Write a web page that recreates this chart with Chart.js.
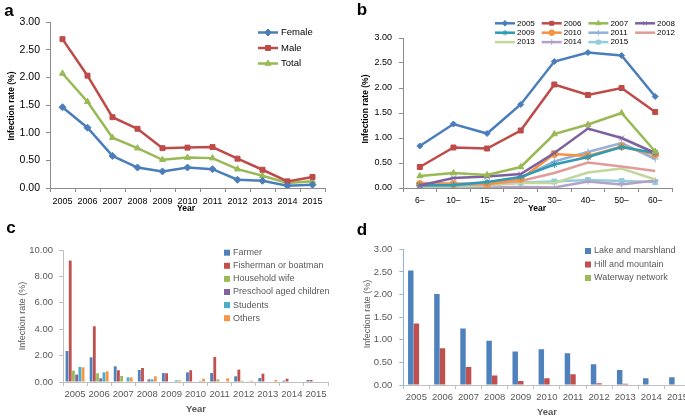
<!DOCTYPE html>
<html>
<head>
<meta charset="utf-8">
<script src="https://cdn.jsdelivr.net/npm/chart.js"></script>
<style>
  html,body{margin:0;padding:0;background:#fff;}
  #wrap{position:relative;width:685px;height:418px;overflow:hidden;font-family:'Liberation Sans',Arial,sans-serif;}
  canvas{position:absolute;}
  .pl{position:absolute;font-weight:bold;font-size:17px;line-height:1;color:#000;transform:translate(-50%,-50%);}
  .t{position:absolute;white-space:nowrap;line-height:1;transform:translate(-50%,-50%);}
  .rot{transform:translate(-50%,-50%) rotate(-90deg);}
</style>
</head>
<body>
<div id="wrap">
  <canvas id="ca" width="330" height="215" style="left:0;top:0"></canvas>
  <canvas id="cb" width="345" height="215" style="left:340px;top:0"></canvas>
  <canvas id="cc" width="340" height="203" style="left:0;top:215px"></canvas>
  <canvas id="cd" width="360" height="203" style="left:340px;top:215px"></canvas>

  <div class="pl" style="left:9px;top:10px">a</div>
  <div class="pl" style="left:362px;top:9px">b</div>
  <div class="pl" style="left:11px;top:227px">c</div>
  <div class="pl" style="left:362px;top:229px">d</div>

  <div class="t rot" style="left:11px;top:106px;font-size:8.5px;font-weight:bold;color:#000">Infection rate (%)</div>
  <div class="t" style="left:186px;top:208px;font-size:8.5px;font-weight:bold;color:#000">Year</div>
  <div class="t rot" style="left:365px;top:109px;font-size:8.5px;font-weight:bold;color:#000">Infection rate (%)</div>
  <div class="t" style="left:537px;top:208px;font-size:8.5px;font-weight:bold;color:#000">Year</div>
  <div class="t rot" style="left:22px;top:316px;font-size:9px;color:#595959">Infection rate (%)</div>
  <div class="t" style="left:196px;top:409px;font-size:9.5px;font-weight:bold;color:#595959">Year</div>
  <div class="t rot" style="left:367px;top:314px;font-size:9px;color:#595959">Infection rate (%)</div>
  <div class="t" style="left:547px;top:412px;font-size:9.5px;font-weight:bold;color:#595959">Year</div>
</div>
<script>
// ---------- DATA ----------
const years = ['2005','2006','2007','2008','2009','2010','2011','2012','2013','2014','2015'];

// Panel a
const femaleRate = [1.46,1.09,0.58,0.37,0.30,0.37,0.34,0.15,0.13,0.04,0.06];
const maleRate   = [2.69,2.03,1.28,1.07,0.72,0.73,0.74,0.53,0.33,0.12,0.20];
const totalRate  = [2.07,1.56,0.91,0.72,0.51,0.55,0.54,0.34,0.22,0.09,0.12];

// Panel b
const ageGroups = ['6–','10–','15–','20–','30–','40–','50–','60–'];
const age2005 = [0.84,1.28,1.09,1.67,2.53,2.71,2.65,1.83];
const age2006 = [0.42,0.81,0.79,1.15,2.07,1.86,2.00,1.52];
const age2007 = [0.24,0.30,0.26,0.42,1.08,1.27,1.50,0.73];
const age2008 = [0.05,0.20,0.23,0.28,0.70,1.19,1.00,0.70];
const age2009 = [0.05,0.06,0.12,0.22,0.47,0.62,0.82,0.70];
const age2010 = [0.08,0.08,0.08,0.18,0.68,0.64,0.83,0.67];
const age2011 = [0.05,0.05,0.08,0.20,0.53,0.72,0.90,0.58];
const age2012 = [0.10,0.09,0.08,0.14,0.30,0.51,0.43,0.34];
const age2013 = [0.03,0.03,0.05,0.10,0.10,0.31,0.39,0.17];
const age2014 = [0.03,0.02,0.01,0.02,0.01,0.13,0.07,0.15];
const age2015 = [0.00,0.00,0.06,0.11,0.13,0.16,0.14,0.12];

// Panel c
const farmer     = [2.35,1.87,1.19,0.91,0.68,0.73,0.68,0.43,0.30,0.10,0.15];
const fisherman  = [9.20,4.22,0.89,1.06,0.66,0.89,1.90,0.94,0.63,0.25,0.15];
const housewife  = [0.86,0.66,0.46,0.00,0.00,0.00,0.20,0.10,0.00,0.00,0.00];
const preschool  = [0.56,0.28,0.00,0.20,0.00,0.00,0.00,0.00,0.00,0.00,0.00];
const students   = [1.14,0.73,0.35,0.20,0.13,0.08,0.00,0.05,0.00,0.00,0.00];
const others     = [1.11,0.81,0.35,0.43,0.13,0.25,0.28,0.10,0.15,0.00,0.00];

// Panel d
const lakeMarsh  = [2.53,2.01,1.25,0.98,0.74,0.79,0.70,0.46,0.33,0.15,0.17];
const hillMount  = [1.36,0.81,0.40,0.21,0.09,0.15,0.24,0.04,0.03,0.00,0.00];
const waterway   = [0,0,0,0,0,0,0,0,0,0,0];

// ---------- HELPERS ----------
Chart.defaults.font.family = "'Liberation Sans', Arial, sans-serif";
Chart.defaults.animation = false;

function fmt2(v){ return Number(v).toFixed(2); }

function makeLegend(id, cfg){
  return {
    id: id,
    afterDraw(chart){
      const ctx = chart.ctx;
      ctx.save();
      ctx.font = cfg.font;
      ctx.textBaseline = 'middle';
      ctx.textAlign = 'left';
      chart.data.datasets.forEach((ds, i) => {
        const col = cfg.cols ? i % cfg.cols : 0;
        const row = cfg.cols ? Math.floor(i / cfg.cols) : i;
        const x = cfg.x0 + col * (cfg.dx || 0);
        const y = cfg.y0 + row * cfg.dy;
        if (cfg.type === 'line') {
          ctx.strokeStyle = ds.borderColor;
          ctx.lineWidth = cfg.lw;
          ctx.beginPath(); ctx.moveTo(x, y); ctx.lineTo(x + cfg.len, y); ctx.stroke();
          if (ds.pointRadius > 0 && Chart.helpers && Chart.helpers.drawPoint) {
            ctx.fillStyle = ds.borderColor;
            ctx.strokeStyle = ds.borderColor;
            ctx.lineWidth = 1;
            Chart.helpers.drawPoint(ctx, {pointStyle: ds.pointStyle, radius: cfg.mr, rotation: 0, borderWidth: 1}, x + cfg.len/2, y);
          }
          ctx.fillStyle = cfg.color;
          ctx.fillText(ds.label, x + cfg.len + cfg.gap, y);
        } else {
          ctx.fillStyle = ds.backgroundColor;
          ctx.fillRect(x, y - cfg.sq/2, cfg.sq, cfg.sq);
          ctx.fillStyle = cfg.color;
          ctx.fillText(ds.label, x + cfg.sq + cfg.gap, y);
        }
      });
      ctx.restore();
    }
  };
}

function lineDs(label, data, color, style, r, w){
  return {label, data, borderColor: color, backgroundColor: color,
    pointBackgroundColor: color, pointBorderColor: color,
    pointStyle: style, pointRadius: r, pointBorderWidth: 1, borderWidth: w, tension: 0};
}

function axisX(color, fontSize, txtColor, h, pad){
  return {
    type: 'category', offset: true,
    grid: {display: true, offset: true, drawOnChartArea: false, drawTicks: true, tickLength: 4, color: color},
    border: {display: true, color: color, width: 1},
    ticks: {autoSkip: false, maxRotation: 0, minRotation: 0, font: {size: fontSize}, color: txtColor, padding: pad},
    afterFit(s){ s.height = h; }
  };
}
function axisY(max, step, color, fontSize, txtColor, w, pad){
  return {
    min: 0, max: max,
    grid: {display: true, drawOnChartArea: false, drawTicks: true, tickLength: 4, color: color},
    border: {display: true, color: color, width: 1},
    ticks: {stepSize: step, font: {size: fontSize}, color: txtColor, padding: pad, callback: fmt2},
    afterFit(s){ s.width = w; }
  };
}

// ---------- PANEL A ----------
new Chart(document.getElementById('ca'), {
  type: 'line',
  data: {
    labels: years,
    datasets: [
      lineDs('Female', femaleRate, '#4A7EBB', 'rectRot', 3.5, 2.5),
      lineDs('Male', maleRate, '#BE4B48', 'rect', 3.5, 2.5),
      lineDs('Total', totalRate, '#98B954', 'triangle', 3.5, 2.5)
    ]
  },
  options: {
    responsive: false,
    layout: {padding: {top: 22, right: 5, left: 0, bottom: 0}},
    plugins: {legend: {display: false}, tooltip: {enabled: false}},
    scales: {
      x: axisX('#8C8C8C', 9, '#000', 27, 4),
      y: axisY(3, 0.5, '#8C8C8C', 10.5, '#000', 50, 6)
    }
  },
  plugins: [makeLegend('legA', {type: 'line', font: "9.5px 'Liberation Sans', Arial, sans-serif", color: '#000',
    x0: 258, y0: 32.5, dy: 15.5, len: 20, gap: 3, lw: 2.5, mr: 3.5})]
});

// ---------- PANEL B ----------
new Chart(document.getElementById('cb'), {
  type: 'line',
  data: {
    labels: ageGroups,
    datasets: [
      lineDs('2005', age2005, '#4A7EBB', 'rectRot', 3, 2.5),
      lineDs('2006', age2006, '#BE4B48', 'rect', 3.5, 2.5),
      lineDs('2007', age2007, '#98B954', 'triangle', 3.5, 2.5),
      lineDs('2008', age2008, '#7D60A0', 'crossRot', 3.5, 2.5),
      lineDs('2009', age2009, '#2F9AB5', 'star', 3.5, 2.5),
      lineDs('2010', age2010, '#F69240', 'circle', 3.5, 2.5),
      lineDs('2011', age2011, '#92B1DB', 'cross', 3.5, 2.5),
      lineDs('2012', age2012, '#E09C9A', 'circle', 0, 2.5),
      lineDs('2013', age2013, '#C3D69B', 'circle', 0, 2.5),
      lineDs('2014', age2014, '#B3A2C7', 'cross', 3, 2.5),
      lineDs('2015', age2015, '#93CDDD', 'rect', 3.5, 2.5)
    ]
  },
  options: {
    responsive: false,
    layout: {padding: {top: 38, right: 13, left: 0, bottom: 0}},
    plugins: {legend: {display: false}, tooltip: {enabled: false}},
    scales: {
      x: axisX('#8C8C8C', 8.5, '#000', 27, 4),
      y: axisY(3, 0.5, '#8C8C8C', 9, '#000', 63, 7)
    }
  },
  plugins: [makeLegend('legB', {type: 'line', font: "8px 'Liberation Sans', Arial, sans-serif", color: '#000',
    x0: 155, y0: 23.3, dx: 46.7, dy: 9.4, cols: 4, len: 20, gap: 2, lw: 2.5, mr: 2.8})]
});

// ---------- PANEL C ----------
function barDs(label, data, color){
  return {label, data, backgroundColor: color, borderWidth: 0};
}
new Chart(document.getElementById('cc'), {
  type: 'bar',
  data: {
    labels: years,
    datasets: [
      barDs('Farmer', farmer, '#4F81BD'),
      barDs('Fisherman or boatman', fisherman, '#C0504D'),
      barDs('Household wife', housewife, '#9BBB59'),
      barDs('Preschool aged children', preschool, '#8064A2'),
      barDs('Students', students, '#4BACC6'),
      barDs('Others', others, '#F79646')
    ]
  },
  options: {
    responsive: false,
    datasets: {bar: {categoryPercentage: 0.8, barPercentage: 0.88}},
    layout: {padding: {top: 35, right: 12, left: 0, bottom: 0}},
    plugins: {legend: {display: false}, tooltip: {enabled: false}},
    scales: {
      x: axisX('#BFBFBF', 9.5, '#595959', 36, 3),
      y: axisY(10, 2, '#BFBFBF', 9.5, '#595959', 63, 6)
    }
  },
  plugins: [makeLegend('legC', {type: 'bar', font: "9px 'Liberation Sans', Arial, sans-serif", color: '#595959',
    x0: 224, y0: 37.7, dy: 13.1, sq: 6, gap: 3})]
});

// ---------- PANEL D ----------
new Chart(document.getElementById('cd'), {
  type: 'bar',
  data: {
    labels: years,
    datasets: [
      barDs('Lake and marshland', lakeMarsh, '#4F81BD'),
      barDs('Hill and mountain', hillMount, '#C0504D'),
      barDs('Waterway network', waterway, '#9BBB59')
    ]
  },
  options: {
    responsive: false,
    datasets: {bar: {categoryPercentage: 0.64, barPercentage: 0.98}},
    layout: {padding: {top: 34.3, right: 9.5, left: 0, bottom: 0}},
    plugins: {legend: {display: false}, tooltip: {enabled: false}},
    scales: {
      x: axisX('#BFBFBF', 9.5, '#595959', 33, 3),
      y: (function(){ const a = axisY(3, 0.5, '#95B3D7', 9.5, '#595959', 63.3, 7); a.ticks.color = '#595959'; return a; })()
    }
  },
  plugins: [makeLegend('legD', {type: 'bar', font: "9px 'Liberation Sans', Arial, sans-serif", color: '#595959',
    x0: 245, y0: 36, dy: 13.5, sq: 6, gap: 3})]
});
</script>
</body>
</html>
